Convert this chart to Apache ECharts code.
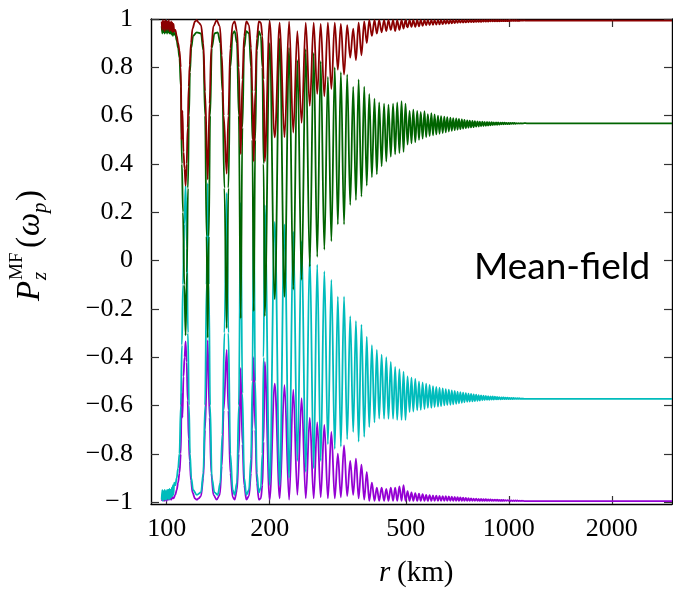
<!DOCTYPE html>
<html>
<head>
<meta charset="utf-8">
<script src="https://cdn.jsdelivr.net/npm/echarts@6/dist/echarts.min.js"></script>
<style>
html,body{margin:0;padding:0;background:#fff;}
#chart{width:673px;height:593px;}
</style>
</head>
<body>
<div id="chart"></div>
<script>
// ---- tick labels ----
const xTicks = [100, 200, 500, 1000, 2000];
const yTicks = [-1, -0.8, -0.6, -0.4, -0.2, 0, 0.2, 0.4, 0.6, 0.8, 1];

// ---- early part (r < 193 km), [r, P] pairs ----
const redEarly = [[96.7,0.99],[97.1,0.955],[97.5,0.995],[97.9,0.96],[98.3,0.99],[98.7,0.95],[99.1,0.995],[99.5,0.96],[99.9,0.99],[100.3,0.955],[100.7,0.99],[101.1,0.96],[101.5,0.995],[101.9,0.95],[102.3,0.985],[102.7,0.955],[103.1,0.99],[103.5,0.95],[103.9,0.985],[104.3,0.945],[104.7,0.98],[105.2,0.95],[106,0.955],[107,0.93],[108,0.9],[109,0.87],[110,0.8],[110.6,0.5],[111.2,0.62],[112,0.45],[112.8,0.38],[113.6,0.31],[114.4,0.4],[115.2,0.55],[116,0.72],[116.8,0.81],[117.8,0.9],[119,0.96],[121,0.99],[122.5,0.995],[124,0.985],[126,0.975],[128,0.9],[129.5,0.7],[131.8,0.336],[133.5,0.65],[135,0.88],[137,0.97],[140,0.995],[143,0.97],[145,0.85],[146.8,0.6],[149.8,0.36],[151.5,0.6],[153.5,0.88],[156,0.98],[158,0.99],[160.5,0.95],[162.5,0.8],[164.6,0.44],[166.5,0.75],[168.5,0.93],[171,0.99],[174,0.975],[176.5,0.88],[178,0.7],[179.7,0.41],[181.5,0.7],[183.5,0.92],[186,0.99],[188.5,0.985],[190.5,0.93],[192,0.75]];
const greenEarly = [[96.7,0.97],[97.1,0.94],[97.5,0.975],[97.9,0.945],[98.3,0.97],[98.7,0.94],[99.1,0.975],[99.5,0.945],[99.9,0.97],[100.3,0.94],[100.7,0.97],[101.1,0.945],[101.5,0.975],[101.9,0.94],[102.3,0.965],[102.7,0.94],[103.1,0.97],[103.5,0.935],[103.9,0.965],[104.3,0.93],[104.7,0.96],[105.2,0.935],[106,0.94],[107,0.91],[108,0.88],[109,0.84],[110,0.72],[110.8,0.4],[111.6,0.2],[112.6,-0.1],[113.6,-0.31],[114.6,-0.05],[115.4,0.3],[116.2,0.6],[117,0.78],[118,0.88],[119.5,0.93],[122.5,0.945],[126,0.94],[128,0.87],[129.5,0.6],[130.8,0.1],[131.8,-0.32],[132.8,0.1],[134,0.6],[135.5,0.88],[138,0.94],[141,0.945],[143.5,0.9],[145.5,0.7],[147.5,0.3],[149.8,-0.28],[151.5,0.3],[153.5,0.8],[156,0.94],[158,0.95],[160.5,0.9],[162.5,0.6],[164.6,-0.24],[166.5,0.55],[168.5,0.88],[171,0.95],[174,0.94],[176.5,0.8],[178,0.5],[179.7,-0.21],[181.5,0.5],[183.5,0.87],[186,0.95],[188.5,0.93],[190.5,0.8],[192,0.4]];
const cyanEarly = [[96.7,-0.99],[97.1,-0.95],[97.5,-0.995],[97.9,-0.955],[98.3,-0.99],[98.7,-0.95],[99.1,-0.99],[99.5,-0.955],[99.9,-0.99],[100.3,-0.95],[100.7,-0.985],[101.1,-0.95],[101.5,-0.99],[101.9,-0.945],[102.3,-0.985],[102.7,-0.95],[103.1,-0.98],[103.5,-0.94],[103.9,-0.975],[104.3,-0.93],[104.7,-0.97],[105.2,-0.92],[106,-0.93],[107,-0.9],[108,-0.86],[109,-0.8],[110,-0.6],[110.8,-0.35],[111.6,-0.1],[112.6,0.15],[113.6,0.31],[114.6,0.05],[115.4,-0.3],[116.2,-0.6],[117,-0.8],[118,-0.9],[119.5,-0.95],[122.5,-0.97],[126,-0.96],[128,-0.88],[129.5,-0.6],[130.8,-0.1],[131.8,0.32],[132.8,-0.1],[134,-0.6],[135.5,-0.9],[138,-0.96],[141,-0.97],[143.5,-0.92],[145.5,-0.72],[147.5,-0.3],[149.8,0.28],[151.5,-0.3],[153.5,-0.8],[156,-0.95],[158,-0.97],[160.5,-0.92],[162.5,-0.6],[164.6,0.24],[166.5,-0.55],[168.5,-0.9],[171,-0.97],[174,-0.95],[176.5,-0.82],[178,-0.5],[179.7,0.21],[181.5,-0.5],[183.5,-0.88],[186,-0.96],[188.5,-0.94],[190.5,-0.8],[192,-0.4]];
const purpleEarly = [[96.7,-0.995],[97.5,-0.985],[98.3,-0.995],[99.1,-0.985],[99.9,-0.995],[100.7,-0.985],[101.5,-0.99],[102.3,-0.98],[103.1,-0.99],[103.9,-0.98],[104.7,-0.985],[106,-0.97],[107,-0.95],[108,-0.92],[109,-0.88],[110,-0.8],[110.6,-0.55],[111.2,-0.65],[112,-0.48],[112.8,-0.4],[113.6,-0.335],[114.4,-0.42],[115.2,-0.58],[116,-0.74],[116.8,-0.83],[117.8,-0.91],[119,-0.96],[121,-0.985],[122.5,-0.99],[124,-0.985],[126,-0.975],[128,-0.9],[129.5,-0.7],[131.8,-0.33],[133.5,-0.65],[135,-0.88],[137,-0.97],[140,-0.99],[143,-0.97],[145,-0.85],[146.8,-0.62],[149.8,-0.37],[151.5,-0.62],[153.5,-0.88],[156,-0.98],[158,-0.99],[160.5,-0.95],[162.5,-0.8],[164.6,-0.445],[166.5,-0.76],[168.5,-0.93],[171,-0.99],[174,-0.975],[176.5,-0.88],[178,-0.7],[179.7,-0.40],[181.5,-0.7],[183.5,-0.92],[186,-0.99],[188.5,-0.985],[190.5,-0.93],[192,-0.75]];

// ---- oscillating part: positions of the dips and of the tops (km) ----
const rDip = [193.5,207,221,234.5,248,262,275.5,289,303,316.5,330,344,357.5,371,384.5,398,411.5,425,438.5,452,465.5,479,492.5,506,519.5,533,546.5,560,573.5,587,600.5,614,627.5,641,654.5,668,681.5,695,708.5,722,735.5,749,762.5,776,789.5,803,816.5,830,843.5,857,870.5,884,897.5,911,924.5,938,951.5,965,978.5,992,1005.5,1019,1032.5,1046,1059.5,1073,1086.5,1100];
const rTop = [200,214,228,241,255,269,282,296,310,323,337,351,364,378,391,405,418,432,445,459,472,486,499,513,526,540,553,567,580,594,607,621,634,648,661,675,688,702,715,729,742,756,769,783,796,810,823,837,850,864,877,891,904,918,931,945,958,972,985,999,1012,1026,1039,1053,1066,1080,1093,1107];

const redDip = [0.41,0.51,0.51,0.53,0.57,0.64,0.69,0.68,0.71,0.79,0.77,0.84,0.83,0.85,
  0.90,0.93,0.94,0.945,0.95,0.955,0.95,0.955,0.96,0.965,0.967,0.968,0.97,0.972,0.974,0.975,
  0.976,0.977,0.978,0.979,0.98,0.981,0.982,0.983,0.984,0.985,0.985,0.986,0.986,0.987,0.987,0.988,0.988,0.988,0.989,0.989,0.989,0.99,0.99,0.99,0.99,0.99,0.991,0.991,0.991,0.991,
  0.991,0.992,0.992,0.992,0.992,0.992,0.993,0.993];
const redTop = [0.99,0.985,0.99,0.95,0.985,0.985,0.98,0.985,0.985,0.98,0.975,0.96,0.985,0.99,
  0.995,0.995,0.995,0.995,0.995,0.995,0.995,0.995,0.995,0.995,0.995,0.995,0.995,0.995,0.995,0.995,
  0.995,0.995,0.995,0.995,0.995,0.995,0.995,0.995,0.995,0.995,0.995,0.995,0.995,0.995,0.995,0.995,0.995,0.995,0.995,0.995,0.995,0.995,0.995,0.995,0.995,0.995,0.995,0.995,0.995,0.995,
  0.995,0.995,0.995,0.995,0.994,0.994,0.994,0.994];

const greenDip = [-0.23,-0.16,-0.15,-0.12,-0.08,-0.025,0.015,0.045,0.08,0.15,0.15,0.23,0.25,0.265,
  0.31,0.345,0.357,0.39,0.41,0.43,0.44,0.445,0.45,0.48,0.485,0.49,0.50,0.505,0.51,0.515,
  0.518,0.522,0.525,0.528,0.531,0.534,0.537,0.54,0.542,0.544,0.546,0.548,0.55,0.551,0.552,0.554,0.555,0.556,0.557,0.558,0.559,0.56,0.561,0.562,0.562,0.563,0.564,0.564,0.565,0.565,
  0.565,0.566,0.566,0.566,0.567,0.567,0.567,0.567];
const greenTop = [0.9,0.92,0.88,0.83,0.875,0.86,0.825,0.76,0.80,0.78,0.77,0.72,0.75,0.72,
  0.69,0.67,0.655,0.65,0.645,0.65,0.655,0.66,0.65,0.62,0.625,0.62,0.615,0.618,0.606,0.61,
  0.605,0.60,0.598,0.596,0.594,0.592,0.59,0.588,0.586,0.584,0.582,0.58,0.579,0.578,0.577,0.576,0.575,0.575,0.574,0.574,0.573,0.573,0.572,0.572,0.572,0.571,0.571,0.571,0.57,0.57,
  0.57,0.57,0.57,0.569,0.569,0.569,0.569,0.569];

const cyanDip = [0.23,0.16,0.15,0.12,0.08,0.025,-0.017,-0.045,-0.08,-0.15,-0.15,-0.23,-0.25,-0.265,
  -0.315,-0.35,-0.37,-0.39,-0.40,-0.42,-0.44,-0.45,-0.46,-0.48,-0.485,-0.49,-0.50,-0.505,-0.51,-0.515,
  -0.52,-0.523,-0.526,-0.529,-0.532,-0.535,-0.538,-0.54,-0.543,-0.545,-0.547,-0.549,-0.551,-0.552,-0.554,-0.555,-0.557,-0.558,-0.559,-0.56,-0.561,-0.562,-0.563,-0.564,-0.565,-0.566,-0.567,-0.567,-0.568,-0.568,
  -0.569,-0.569,-0.569,-0.57,-0.57,-0.57,-0.571,-0.571];
const cyanTop = [-0.93,-0.93,-0.9,-0.83,-0.875,-0.86,-0.83,-0.76,-0.78,-0.77,-0.74,-0.71,-0.75,-0.73,
  -0.69,-0.67,-0.655,-0.655,-0.655,-0.655,-0.66,-0.66,-0.66,-0.627,-0.625,-0.62,-0.618,-0.615,-0.61,-0.61,
  -0.607,-0.605,-0.603,-0.60,-0.598,-0.597,-0.595,-0.593,-0.591,-0.589,-0.587,-0.585,-0.584,-0.583,-0.582,-0.581,-0.58,-0.579,-0.578,-0.577,-0.577,-0.576,-0.576,-0.575,-0.575,-0.575,-0.574,-0.574,-0.574,-0.574,
  -0.574,-0.574,-0.573,-0.573,-0.573,-0.573,-0.573,-0.573];

const purpleDip = [-0.42,-0.51,-0.515,-0.535,-0.57,-0.65,-0.67,-0.68,-0.71,-0.80,-0.765,-0.83,-0.82,-0.845,
  -0.875,-0.92,-0.94,-0.94,-0.945,-0.94,-0.94,-0.935,-0.93,-0.955,-0.96,-0.963,-0.965,-0.967,-0.97,-0.971,
  -0.972,-0.973,-0.974,-0.975,-0.976,-0.977,-0.978,-0.979,-0.98,-0.981,-0.982,-0.983,-0.984,-0.985,-0.986,-0.986,-0.987,-0.987,-0.988,-0.988,-0.989,-0.989,-0.99,-0.99,-0.99,-0.991,-0.991,-0.991,-0.992,-0.992,
  -0.992,-0.993,-0.993,-0.993,-0.993,-0.994,-0.994,-0.994];
const purpleTop = [-0.99,-0.985,-0.99,-0.97,-0.985,-0.985,-0.98,-0.985,-0.985,-0.98,-0.975,-0.97,-0.985,-0.99,
  -0.995,-0.995,-0.995,-0.995,-0.995,-0.995,-0.995,-0.995,-0.995,-0.995,-0.995,-0.995,-0.995,-0.995,-0.995,-0.995,
  -0.995,-0.995,-0.995,-0.995,-0.995,-0.995,-0.995,-0.995,-0.995,-0.995,-0.995,-0.995,-0.995,-0.995,-0.995,-0.995,-0.995,-0.995,-0.995,-0.995,-0.995,-0.995,-0.995,-0.995,-0.995,-0.995,-0.995,-0.995,-0.995,-0.995,
  -0.996,-0.996,-0.996,-0.996,-0.996,-0.996,-0.996,-0.996];

// ---- settled tail (km) and values ----
const rTail = [1130, 1500, 3000];
const redTail = [0.993, 0.993, 0.993];
const greenTail = [0.568, 0.568, 0.568];
const cyanTail = [-0.573, -0.573, -0.573];
const purpleTail = [-0.996, -0.996, -0.996];

function build(early, dip, top, tail) {
  const out = early.slice();
  for (let k = 0; k < rDip.length; k++) {
    out.push([rDip[k], dip[k]]);
    out.push([rTop[k], top[k]]);
  }
  for (let k = 0; k < rTail.length; k++) out.push([rTail[k], tail[k]]);
  return out;
}

const chart = echarts.init(document.getElementById('chart'), null, {renderer: 'canvas'});
const serif = 'Liberation Serif';
function lineSeries(name, data, color) {
  return {
    name, type: 'line', data, showSymbol: false, smooth: 0.35, smoothMonotone: 'x',
    lineStyle: {color, width: 1.8}, silent: true, animation: false
  };
}
const frame = {show: true, onZero: false, lineStyle: {color: '#000', width: 1.4}};
const tick = {show: true, inside: true, length: 8, lineStyle: {color: '#333', width: 1.2}};

chart.setOption({
  animation: false,
  grid: {left: 151, top: 19, right: 1, bottom: 89, containLabel: false},
  xAxis: [
    {type: 'log', logBase: 10, min: 90, max: 3000, position: 'bottom',
     axisLine: frame, axisTick: Object.assign({customValues: xTicks}, tick),
     minorTick: {show: false}, splitLine: {show: false},
     axisLabel: {customValues: xTicks, fontFamily: serif, fontSize: 26, color: '#000', margin: 12,
       formatter: v => String(Math.round(v))}},
    {type: 'log', logBase: 10, min: 90, max: 3000, position: 'top',
     axisLine: frame, axisTick: Object.assign({customValues: xTicks}, tick),
     splitLine: {show: false}, axisLabel: {show: false}}
  ],
  yAxis: [
    {type: 'value', min: -1.008, max: 1, position: 'left',
     axisLine: frame, axisTick: Object.assign({customValues: yTicks}, tick), splitLine: {show: false},
     axisLabel: {customValues: yTicks, fontFamily: serif, fontSize: 26, color: '#000', margin: 18,
       formatter: v => { const s = Math.abs(v) < 1e-9 ? '0' : String(+v.toFixed(1)); return s.replace('-', '\u2212'); }}},
    {type: 'value', min: -1.008, max: 1, position: 'right',
     axisLine: frame, axisTick: Object.assign({customValues: yTicks}, tick), splitLine: {show: false},
     axisLabel: {show: false}}
  ],
  series: [
    lineSeries('purple', build(purpleEarly, purpleDip, purpleTop, purpleTail), '#9400d3'),
    lineSeries('cyan', build(cyanEarly, cyanDip, cyanTop, cyanTail), '#00bcbc'),
    lineSeries('green', build(greenEarly, greenDip, greenTop, greenTail), '#006400'),
    lineSeries('red', build(redEarly, redDip, redTop, redTail), '#8b0000')
  ],
  graphic: [
    {type: 'text', left: 474, top: 249, style: {text: 'Mean-field', fontFamily: 'Lato', fontSize: 37, fill: '#000'}},
    {type: 'text', left: 379, top: 559, style: {text: 'r', fontFamily: serif, fontStyle: 'italic', fontSize: 29, fill: '#000'}},
    {type: 'text', left: 397, top: 559, style: {text: '(km)', fontFamily: serif, fontSize: 29, fill: '#000'}},
    {type: 'group', x: 30, y: 301, rotation: Math.PI / 2, children: [
      {type: 'text', x: 0, y: 0, style: {text: 'P', fontFamily: serif, fontStyle: 'italic', fontSize: 33, fill: '#000', verticalAlign: 'middle'}},
      {type: 'text', x: 21, y: 10, style: {text: 'z', fontFamily: serif, fontStyle: 'italic', fontSize: 21, fill: '#000', verticalAlign: 'middle'}},
      {type: 'text', x: 21, y: -13, style: {text: 'MF', fontFamily: serif, fontSize: 19, fill: '#000', verticalAlign: 'middle'}},
      {type: 'text', x: 53, y: 0, style: {text: '(', fontFamily: serif, fontSize: 33, fill: '#000', verticalAlign: 'middle'}},
      {type: 'text', x: 65, y: 0, style: {text: '\u03c9', fontFamily: serif, fontStyle: 'italic', fontSize: 33, fill: '#000', verticalAlign: 'middle'}},
      {type: 'text', x: 88, y: 10, style: {text: 'p', fontFamily: serif, fontStyle: 'italic', fontSize: 21, fill: '#000', verticalAlign: 'middle'}},
      {type: 'text', x: 100, y: 0, style: {text: ')', fontFamily: serif, fontSize: 33, fill: '#000', verticalAlign: 'middle'}}
    ]}
  ]
});
</script>
</body>
</html>
